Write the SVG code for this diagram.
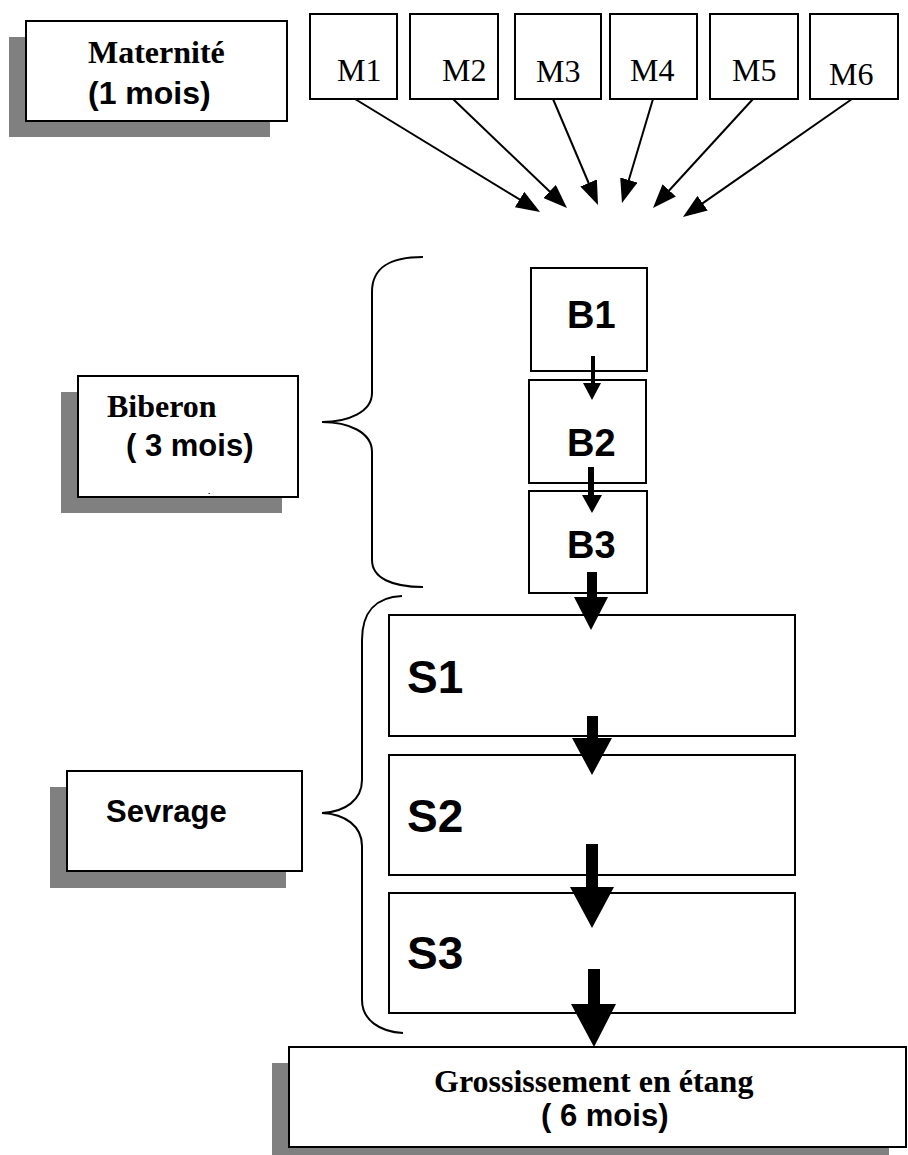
<svg xmlns="http://www.w3.org/2000/svg" width="908" height="1155" viewBox="0 0 908 1155">
  <style>
    .box { fill: #ffffff; stroke: #000000; stroke-width: 2; }
    .shadow { fill: #808080; }
    .serif { font-family: "Liberation Serif", "Times New Roman", serif; fill: #000; }
    .sans { font-family: "Liberation Sans", Arial, sans-serif; font-weight: bold; fill: #000; }
    .bold { font-weight: bold; }
    .thin { stroke: #000; stroke-width: 2; fill: none; }
    .brace { stroke: #000; stroke-width: 2; fill: none; }
    .fat { fill: #000; }
  </style>
  <defs>
    <marker id="head" markerUnits="userSpaceOnUse" viewBox="0 0 24 18" refX="12" refY="9" markerWidth="24" markerHeight="18" orient="auto">
      <path d="M0,0 L24,9 L0,18 Z" fill="#000"/>
    </marker>
  </defs>

  <rect width="908" height="1155" fill="#ffffff"/>

  <!-- stage labels with drop shadows -->
  <g id="maternite">
    <rect class="shadow" x="9" y="37" width="261" height="100"/>
    <rect class="box" x="26" y="21" width="261" height="100"/>
    <text class="serif bold" x="88" y="63" font-size="32">Maternité</text>
    <text class="sans" x="88" y="104" font-size="32">(1 mois)</text>
  </g>

  <g id="biberon">
    <rect class="shadow" x="61" y="392" width="221" height="121"/>
    <rect class="box" x="78" y="376" width="220" height="121"/>
    <text class="serif bold" x="107" y="417" font-size="32">Biberon</text>
    <text class="sans" x="126" y="456" font-size="31">( 3 mois)</text>
    <text class="sans" x="208" y="494" font-size="8">.</text>
  </g>

  <g id="sevrage">
    <rect class="shadow" x="50" y="787" width="236" height="101"/>
    <rect class="box" x="67" y="771" width="235" height="100"/>
    <text class="sans" x="106" y="822" font-size="31">Sevrage</text>
  </g>

  <g id="grossissement">
    <rect class="shadow" x="272" y="1063" width="617" height="100"/>
    <rect class="box" x="289" y="1047" width="617" height="100"/>
    <text class="serif bold" x="434" y="1092" font-size="32">Grossissement en étang</text>
    <text class="sans" x="541" y="1126" font-size="31">( 6 mois)</text>
  </g>

  <!-- maternity tanks -->
  <g id="m1"><rect class="box" x="310" y="14" width="87" height="85"/><text class="serif" x="337" y="81" font-size="32">M1</text></g>
  <g id="m2"><rect class="box" x="410" y="14" width="88" height="85"/><text class="serif" x="442" y="81" font-size="32">M2</text></g>
  <g id="m3"><rect class="box" x="515" y="14" width="86" height="85"/><text class="serif" x="536" y="82" font-size="32">M3</text></g>
  <g id="m4"><rect class="box" x="610" y="14" width="87" height="85"/><text class="serif" x="630" y="81" font-size="32">M4</text></g>
  <g id="m5"><rect class="box" x="710" y="14" width="88" height="85"/><text class="serif" x="732" y="81" font-size="32">M5</text></g>
  <g id="m6"><rect class="box" x="810" y="14" width="88" height="85"/><text class="serif" x="829" y="85" font-size="32">M6</text></g>

  <!-- bottle-feeding tanks -->
  <g id="b1"><rect class="box" x="531" y="268" width="116" height="103"/><text class="sans" x="567" y="328" font-size="38">B1</text></g>
  <g id="b2"><rect class="box" x="529" y="380" width="117" height="103"/><text class="sans" x="567" y="456" font-size="38">B2</text></g>
  <g id="b3"><rect class="box" x="529" y="491" width="118" height="102"/><text class="sans" x="567" y="558" font-size="38">B3</text></g>

  <!-- weaning tanks -->
  <g id="s1"><rect class="box" x="389" y="615" width="406" height="121"/><text class="sans" x="407" y="693" font-size="46">S1</text></g>
  <g id="s2"><rect class="box" x="389" y="755" width="406" height="120"/><text class="sans" x="407" y="832" font-size="46">S2</text></g>
  <g id="s3"><rect class="box" x="389" y="893" width="406" height="120"/><text class="sans" x="407" y="969" font-size="46">S3</text></g>

  <!-- braces grouping the phases -->
  <g id="braces">
    <path class="brace" d="M423,257 C392,257 372,266 372,292 L372,393 C372,412 348,422 322,422 C348,422 372,432 372,452 L372,560 C372,578 392,587 423,587"/>
    <path class="brace" d="M402,596 C376,597 362,612 362,640 L362,780 C362,800 345,812 322,813 C345,814 362,826 362,846 L362,1000 C362,1020 380,1032 403,1033"/>
  </g>

  <g id="connectors">
    <!-- maternity tanks converge -->
    <line class="thin" marker-end="url(#head)" x1="355" y1="99" x2="529.8" y2="205.7"/>
    <line class="thin" marker-end="url(#head)" x1="453" y1="99" x2="558.3" y2="199.7"/>
    <line class="thin" marker-end="url(#head)" x1="553" y1="99" x2="593.3" y2="194.0"/>
    <line class="thin" marker-end="url(#head)" x1="653" y1="99" x2="625.4" y2="191.5"/>
    <line class="thin" marker-end="url(#head)" x1="753" y1="99" x2="661.1" y2="199.2"/>
    <line class="thin" marker-end="url(#head)" x1="852" y1="99" x2="692.8" y2="210.1"/>

    <!-- downward flow arrows -->
    <path class="fat" d="M591,356 H595 V383 H601 L592,400 L583,383 H591 Z"/>
    <path class="fat" d="M588,467 H594 V495 H602 L592,513 L582,495 H588 Z"/>
    <path class="fat" d="M587,572 H597 V597 H608 L591,630 L574,597 H587 Z"/>
    <path class="fat" d="M587,716 H598 V738 H612 L592,775 L572,738 H587 Z"/>
    <path class="fat" d="M586,844 H598 V887 H614 L592,928 L570,887 H586 Z"/>
    <path class="fat" d="M588,969 H600 V1004 H616 L594,1047 L571,1004 H588 Z"/>
  </g>
</svg>
